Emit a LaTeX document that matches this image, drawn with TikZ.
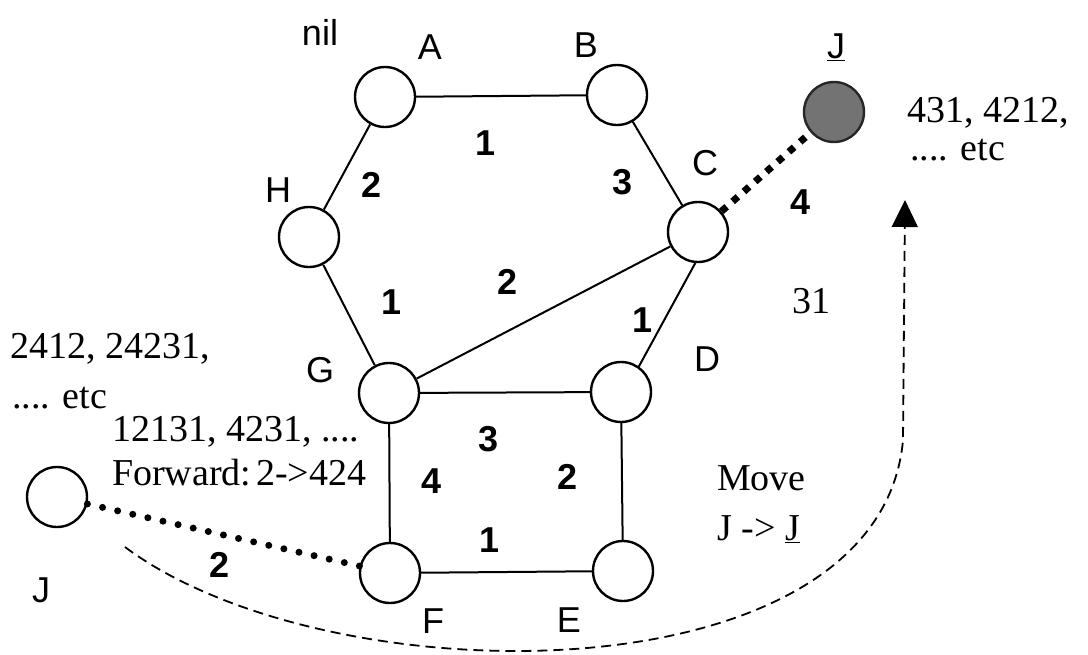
\documentclass[tikz,border=0pt]{standalone}
\usepackage{fontspec}
\setmainfont{Liberation Serif}
\setsansfont{Liberation Sans}
\usetikzlibrary{arrows.meta}
\tikzset{
	px grid/.style={x=1pt,y=-1pt,line join=round},
	station/.style={draw,circle,line width=2.4pt,minimum size=60pt,inner sep=0pt,fill=white},
	moved station/.style={station,draw=black!85,fill=black!55},
	link/.style={line width=2pt},
	radio dots/.style={line width=7pt,line cap=round,dash pattern=on 0pt off 15.5pt},
	radio blocks/.style={line width=7pt,dash pattern=on 7pt off 8pt},
	move path/.style={line width=1.8pt,dash pattern=on 10pt off 6pt,
		-{Triangle[length=27pt,width=26pt]}},
	station name/.style={font=\sffamily\fontsize{36}{40}\selectfont,inner sep=0pt},
	hop/.style={font=\sffamily\bfseries\fontsize{36}{40}\selectfont,inner sep=0pt},
	route list/.style={font=\fontsize{38}{42}\selectfont,inner sep=0pt,anchor=base west}
}

\begin{document}
\begin{tikzpicture}[px grid]
	\useasboundingbox (0,0) rectangle (1088,654);
	% stations
	\node[station] (A) at (385,97) {};
	\node[station] (B) at (617,95) {};
	\node[station] (C) at (698,232) {};
	\node[station] (H) at (309,237) {};
	\node[station] (G) at (389,393) {};
	\node[station] (D) at (621,392) {};
	\node[station] (F) at (390,573) {};
	\node[station] (E) at (623,571) {};
	\node[station] (J) at (57,497) {};
	\node[moved station] (Jnew) at (834,112) {};
	% links
	\draw[link] (A) -- (B);
	\draw[link] (B) -- (C);
	\draw[link] (A) -- (H);
	\draw[link] (H) -- (G);
	\draw[link] (G) -- (C);
	\draw[link] (C.265) -- (D.55);
	\draw[link] (G) -- (D);
	\draw[link] (G) -- (F);
	\draw[link] (D) -- (E);
	\draw[link] (F) -- (E);
	\draw[radio blocks] (C) -- (Jnew);
	\draw[radio dots] (J) -- (F);
	% move of J
	\coordinate (move from) at (125,547);
	\coordinate (move to) at (905,200);
	\draw[move path] (move from) .. controls (330,700) and (880,700) .. (903,440) -- (move to);
	% station names
	\node[station name] (nil) at (320,32) {nil};
	\node[station name] (nameA) at (430,47) {A};
	\node[station name] (nameB) at (586,45) {B};
	\node[station name] (nameC) at (705,163) {C};
	\node[station name] (nameH) at (278,190) {H};
	\node[station name] (nameG) at (320,370) {G};
	\node[station name] (nameD) at (707,359) {D};
	\node[station name] (nameF) at (433,621) {F};
	\node[station name] (nameE) at (569,620) {E};
	\node[station name] (nameJ) at (41,590) {J};
	\node[station name] (nameJnew) at (836,47) {\underline{J}};
	% hop counts
	\node[hop] (hAB) at (486,143) {1};
	\node[hop] (hAH) at (372,185) {2};
	\node[hop] (hBC) at (623,182) {3};
	\node[hop] (hCJ) at (801,202) {4};
	\node[hop] (hGC) at (508,282) {2};
	\node[hop] (hHG) at (392,302) {1};
	\node[hop] (hCD) at (643,320) {1};
	\node[hop] (hGD) at (489,439) {3};
	\node[hop] (hGF) at (432,481) {4};
	\node[hop] (hDE) at (568,477) {2};
	\node[hop] (hFE) at (490,540) {1};
	\node[hop] (hJF) at (220,565) {2};
	% route lists
	\node[route list] (listJa) at (10,358) {2412, 24231,};
	\node[route list] (listJb) at (12,408) {.... etc};
	\node[route list] (listFa) at (112,441) {12131, 4231, ....};
	\node[route list] (listFb) at (112,485) {Forward:\hspace{0.12em}2->424};
	\node[route list] (listD) at (792,313) {31};
	\node[route list] (listNa) at (907,122) {431, 4212,};
	\node[route list] (listNb) at (910,160) {.... etc};
	\node[route list] (moveA) at (717,490) {Move};
	\node[route list] (moveB) at (717,540) {J -> \underline{J}};
\end{tikzpicture}
\end{document}
